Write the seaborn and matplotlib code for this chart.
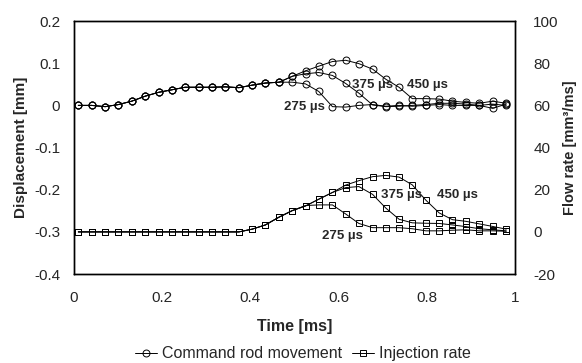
import matplotlib
matplotlib.use("Agg")
import matplotlib.pyplot as plt
from matplotlib.lines import Line2D
import seaborn as sns
import pandas as pd

# ---- data ----
time_ms = [0.010, 0.040, 0.071, 0.101, 0.131, 0.162, 0.192, 0.222, 0.252, 0.283,
           0.313, 0.343, 0.374, 0.404, 0.434, 0.465, 0.495, 0.525, 0.555, 0.586,
           0.616, 0.646, 0.677, 0.707, 0.737, 0.767, 0.798, 0.828, 0.858, 0.889,
           0.919, 0.949, 0.980]

rod_common = [0.0, 0.0, -0.003, 0.002, 0.010, 0.022, 0.031, 0.037, 0.043, 0.043,
              0.043, 0.044, 0.042, 0.048, 0.053, 0.055]
rod_275 = rod_common + [0.055, 0.051, 0.033, -0.003, -0.004, 0.0, 0.002, -0.002, 0.0,
                        -0.002, 0.0, 0.002, 0.0, 0.0, 0.0, 0.003, 0.0]
rod_375 = rod_common + [0.069, 0.075, 0.078, 0.071, 0.052, 0.029, 0.001, -0.003, -0.002,
                        0.0, 0.002, 0.005, 0.005, 0.003, 0.0, -0.007, 0.003]
rod_450 = rod_common + [0.069, 0.082, 0.093, 0.104, 0.107, 0.099, 0.086, 0.062, 0.043,
                        0.016, 0.016, 0.015, 0.010, 0.007, 0.005, 0.010, 0.005]

inj_common = [0.0] * 13 + [1.3, 3.3, 7.0, 10.1]
inj_275 = inj_common + [12.5, 12.8, 12.8, 8.5, 4.0, 2.0, 2.0, 2.0, 1.5, 0.5, 0.5, 0.8,
                        1.0, 0.5, 0.5, 0.3]
inj_375 = inj_common + [12.3, 15.5, 18.7, 21.0, 21.5, 17.8, 11.3, 6.0, 4.3, 4.1, 4.0,
                        3.3, 2.5, 1.5, 1.0, 0.5]
inj_450 = inj_common + [12.3, 15.5, 18.7, 22.2, 24.3, 26.2, 26.8, 26.0, 22.3, 15.0, 9.0,
                        5.8, 5.0, 3.8, 2.6, 1.3]

durations = ["275 µs", "375 µs", "450 µs"]
x_ticks = [0, 0.2, 0.4, 0.6, 0.8, 1]
x_ticklabels = ["0", "0.2", "0.4", "0.6", "0.8", "1"]
y_left_ticks = [0.2, 0.1, 0, -0.1, -0.2, -0.3, -0.4]
y_left_labels = ["0.2", "0.1", "0", "-0.1", "-0.2", "-0.3", "-0.4"]
y_right_ticks = [100, 80, 60, 40, 20, 0, -20]

# label positions (data coords)
rod_label_pos = [(0.569, -0.004, "right"), (0.630, 0.049, "left"), (0.755, 0.049, "left")]
inj_label_pos = [(0.562, -2.0, "left"), (0.696, 17.5, "left"), (0.823, 17.5, "left")]

# ---- long-form tables ----
rod_df = pd.DataFrame({
    "time": time_ms * 3,
    "value": rod_275 + rod_375 + rod_450,
    "case": sum([[d] * len(time_ms) for d in durations], []),
})
inj_df = pd.DataFrame({
    "time": time_ms * 3,
    "value": inj_275 + inj_375 + inj_450,
    "case": sum([[d] * len(time_ms) for d in durations], []),
})

sns.set_style("white")
plt.rcParams["font.family"] = ["Liberation Sans", "DejaVu Sans"]

fig = plt.figure(figsize=(5.82, 3.63), dpi=100)
ax = fig.add_axes([0.127, 0.245, 0.758, 0.697])
ax2 = ax.twinx()

line_kw = dict(linewidth=0.7, markersize=5, markerfacecolor="none",
               markeredgecolor="black", markeredgewidth=0.7)

for d in durations:
    sub = rod_df[rod_df["case"] == d]
    sns.lineplot(data=sub, x="time", y="value", ax=ax, color="black", marker="o",
                 legend=False, **line_kw)
    sub2 = inj_df[inj_df["case"] == d]
    sns.lineplot(data=sub2, x="time", y="value", ax=ax2, color="black", marker="s",
                 legend=False, **dict(line_kw, markersize=4.5))

ax.set_xlim(0, 1)
ax.set_ylim(-0.4, 0.2)
ax2.set_ylim(-20, 100)

ax.set_xticks(x_ticks)
ax.set_xticklabels(x_ticklabels, fontsize=11)
ax.set_yticks(y_left_ticks)
ax.set_yticklabels(y_left_labels, fontsize=11)
ax2.set_yticks(y_right_ticks)
ax2.set_yticklabels([str(v) for v in y_right_ticks], fontsize=11)
ax.tick_params(axis="x", length=0, pad=12)
ax.tick_params(axis="y", length=0, pad=10)
ax2.tick_params(axis="y", length=0, pad=13)

ax.set_xlabel("Time [ms]", fontsize=11.5, fontweight="bold", labelpad=10)
ax.set_ylabel("Displacement [mm]", fontsize=11, fontweight="bold", labelpad=4)
ax2.set_ylabel("Flow rate [mm³/ms]", fontsize=10.5, fontweight="bold", labelpad=3)

for a in (ax, ax2):
    for s in a.spines.values():
        s.set_color("black")
        s.set_linewidth(1.0)

for (x, y, ha), d in zip(rod_label_pos, durations):
    ax.text(x, y, d, fontsize=9.5, fontweight="bold", ha=ha, va="center")
for (x, y, ha), d in zip(inj_label_pos, durations):
    ax2.text(x, y, d, fontsize=9.5, fontweight="bold", ha=ha, va="center")

handles = [
    Line2D([0], [0], color="black", marker="o", **line_kw),
    Line2D([0], [0], color="black", marker="s", **dict(line_kw, markersize=4.5)),
]
fig.legend(handles, ["Command rod movement", "Injection rate"], loc="lower center",
           bbox_to_anchor=(0.52, -0.035), ncol=2, frameon=False, fontsize=11.5,
           handlelength=1.4, handletextpad=0.3, columnspacing=0.6)

fig.savefig("out.png", dpi=100)
